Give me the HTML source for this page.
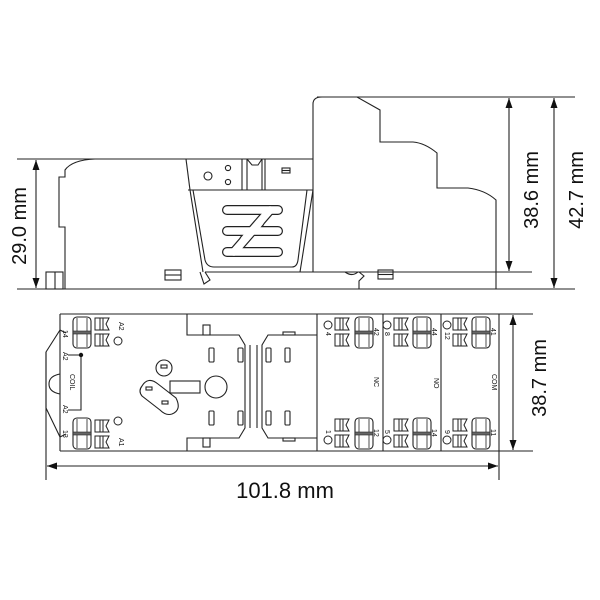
<!DOCTYPE html>
<html><head><meta charset="utf-8"><style>
html,body{margin:0;padding:0;background:#fff;}
svg{display:block;}
text{font-family:"Liberation Sans",sans-serif;fill:#111;}
</style></head><body>
<svg width="600" height="600" viewBox="0 0 600 600" xmlns="http://www.w3.org/2000/svg">
<defs>
  <marker id="ar" viewBox="0 0 10 10" refX="10" refY="5" markerWidth="10" markerHeight="10" orient="auto-start-reverse" markerUnits="userSpaceOnUse">
    <path d="M0,1.5 L10,5 L0,8.5 z" fill="#111"/>
  </marker>
  <g id="big">
    <rect x="0" y="0" width="18" height="31" rx="4" fill="#fff" stroke="#222" stroke-width="1.1"/>
    <line x1="4" y1="1" x2="4" y2="30" stroke="#222" stroke-width="0.8"/>
    <line x1="14" y1="1" x2="14" y2="30" stroke="#222" stroke-width="0.8"/>
    <rect x="0" y="14" width="18" height="3" fill="#666" stroke="#222" stroke-width="0.6"/>
  </g>
  <g id="sm" fill="none" stroke="#222" stroke-width="1">
    <path d="M0,0 H14 L11,6 L14,12 H0 Z"/>
    <line x1="5" y1="0" x2="5" y2="12"/><line x1="8" y1="0" x2="8" y2="12"/>
    <path d="M0,16 H14 L11,22 L14,28 H0 Z"/>
    <line x1="5" y1="16" x2="5" y2="28"/><line x1="8" y1="16" x2="8" y2="28"/>
  </g>
</defs>

<g fill="none" stroke="#222" stroke-width="1.1">
<line x1="317" y1="97" x2="575" y2="97"/>
<line x1="17" y1="159" x2="313" y2="159"/>
<line x1="17" y1="289" x2="575" y2="289"/>
<line x1="205" y1="272" x2="532" y2="272"/>
<path d="M65,289 V227 H59 V177 H65 V170 Q72,160 95,159"/>
<rect x="46" y="272" width="17" height="17"/>
<line x1="55" y1="272" x2="55" y2="289"/>
<path d="M186,159 L190,190"/>
<path d="M200,272 L204,284 L210,280 L205,272"/>
<rect x="165" y="270" width="16" height="10"/><line x1="165" y1="275" x2="181" y2="275"/>
<line x1="188" y1="190" x2="313" y2="190"/>
<circle cx="208" cy="176" r="4"/><circle cx="228" cy="168" r="2.6"/><circle cx="228" cy="182" r="2.6"/>
<line x1="242" y1="159" x2="242" y2="190"/><line x1="247" y1="159" x2="247" y2="190"/>
<path d="M247,159 L252,165 H258 L262,159"/>
<line x1="262" y1="159" x2="262" y2="190"/><line x1="265" y1="159" x2="265" y2="190"/>
<rect x="282" y="168" width="8" height="5"/><line x1="282" y1="170.5" x2="290" y2="170.5"/>
<path d="M190,190 L203,272"/>
<path d="M193,190 L205,260 Q207,267 214,267 H292 Q297,267 298,260 L307,190"/>
<path d="M313,190 L300,272"/>
<!-- logo -->
<g stroke-width="10" stroke="#222" stroke-linecap="round">
  <path d="M227,210 H278 M227,231 H278 M227,252 H278"/>
  <path d="M270,210 L244,240 M260,222 L234,252"/>
</g>
<g stroke-width="7.6" stroke="#fff" stroke-linecap="round">
  <path d="M227,210 H278 M227,231 H278 M227,252 H278"/>
  <path d="M270,210 L244,240 M260,222 L234,252"/>
</g>
<path d="M313,272 V104 Q313,97 322,97 H357 L380,110 V142 H413 Q425,143 437,153 V188 H468 Q485,190 496,200 V289"/>
<path d="M359,289 V281 L364,276 L359,272"/>
<path d="M345,272 Q352,277 358,272"/>
<rect x="378" y="270" width="15" height="9"/><line x1="378" y1="274.5" x2="393" y2="274.5"/>
<line x1="36" y1="160" x2="36" y2="288" marker-start="url(#ar)" marker-end="url(#ar)"/>
<line x1="509" y1="98" x2="509" y2="271" marker-start="url(#ar)" marker-end="url(#ar)"/>
<line x1="554" y1="98" x2="554" y2="288" marker-start="url(#ar)" marker-end="url(#ar)"/>

<line x1="60" y1="314" x2="533" y2="314"/>
<line x1="60" y1="451" x2="533" y2="451"/>
<line x1="60" y1="314" x2="60" y2="451"/>
<line x1="499" y1="314" x2="499" y2="480"/>
<line x1="317" y1="314" x2="317" y2="451"/>
<line x1="383" y1="314" x2="383" y2="451"/>
<line x1="441" y1="314" x2="441" y2="451"/>
<line x1="46" y1="352" x2="46" y2="480"/>
<path d="M60,330 L46,352 V408 L60,437"/>
<path d="M60,374 Q49,376 49,384 Q49,392 60,394"/>
<path d="M60,330 L66,333 M60,437 L66,434"/>
<path d="M68,355 H81 V410 H68"/>
<path d="M187,314 V335 H239 L245,345 V428 L239,438 H187 V451"/>
<path d="M317,335 H268 L262,345 V428 L268,438 H317"/>
<line x1="250" y1="345" x2="250" y2="428"/><line x1="257" y1="345" x2="257" y2="428"/>
<rect x="203" y="325" width="7" height="10"/><rect x="203" y="438" width="7" height="9"/>
<rect x="283" y="332" width="12" height="3"/><rect x="283" y="438" width="12" height="3"/>
<rect x="209" y="348" width="5" height="14" rx="1"/><rect x="238" y="348" width="5" height="14" rx="1"/>
<rect x="266" y="348" width="5" height="14" rx="1"/><rect x="285" y="348" width="5" height="14" rx="1"/>
<rect x="209" y="411" width="5" height="14" rx="1"/><rect x="238" y="411" width="5" height="14" rx="1"/>
<rect x="266" y="411" width="5" height="14" rx="1"/><rect x="285" y="411" width="5" height="14" rx="1"/>
<circle cx="164" cy="368" r="8"/><rect x="161" y="365" width="6" height="3"/>
<rect x="170" y="381" width="30" height="12"/>
<path d="M142,386 Q148,376 158,384 L176,398 Q182,410 172,414 Q166,416 160,410 L142,396 Q138,391 142,386 Z"/>
<rect x="146" y="387" width="6" height="3"/>
<rect x="162" y="401" width="6" height="3"/>
<circle cx="216" cy="387" r="11"/>
<line x1="513" y1="315" x2="513" y2="450" marker-start="url(#ar)" marker-end="url(#ar)"/>
<line x1="47" y1="466" x2="498" y2="466" marker-start="url(#ar)" marker-end="url(#ar)"/>
</g>
<circle cx="81" cy="355" r="2.2" fill="#111"/>

<use href="#big" x="73" y="317"/><use href="#sm" x="95" y="318"/>
<use href="#big" x="73" y="418"/><use href="#sm" x="95" y="420"/>
<g fill="none" stroke="#222" stroke-width="1">
<circle cx="118" cy="341" r="4"/><circle cx="118" cy="421" r="4"/>
<circle cx="328" cy="325" r="4"/><circle cx="328" cy="440" r="4"/>
<circle cx="387" cy="325" r="4"/><circle cx="387" cy="440" r="4"/>
<circle cx="447" cy="325" r="4"/><circle cx="447" cy="440" r="4"/>
</g>
<use href="#sm" x="335" y="318"/><use href="#big" x="355" y="317"/>
<use href="#sm" x="335" y="419"/><use href="#big" x="355" y="418"/>
<use href="#sm" x="394" y="318"/><use href="#big" x="413" y="317"/>
<use href="#sm" x="394" y="419"/><use href="#big" x="413" y="418"/>
<use href="#sm" x="453" y="318"/><use href="#big" x="472" y="317"/>
<use href="#sm" x="453" y="419"/><use href="#big" x="472" y="418"/>

<g font-size="7">
<text transform="translate(119,322) rotate(90)">A2</text>
<text transform="translate(119,438) rotate(90)">A1</text>
<text transform="translate(63,330) rotate(90)">14</text>
<text transform="translate(63,430) rotate(90)">13</text>
<text transform="translate(63,352) rotate(90)">A2</text>
<text transform="translate(63,405) rotate(90)">A2</text>
<text transform="translate(70,374) rotate(90)">COIL</text>
<text transform="translate(374,328) rotate(90)">42</text>
<text transform="translate(432,328) rotate(90)">44</text>
<text transform="translate(491,328) rotate(90)">41</text>
<text transform="translate(374,429) rotate(90)">12</text>
<text transform="translate(432,429) rotate(90)">14</text>
<text transform="translate(491,429) rotate(90)">11</text>
<text transform="translate(326,332) rotate(90)">4</text>
<text transform="translate(385,332) rotate(90)">8</text>
<text transform="translate(445,332) rotate(90)">12</text>
<text transform="translate(326,430) rotate(90)">1</text>
<text transform="translate(385,430) rotate(90)">5</text>
<text transform="translate(445,430) rotate(90)">9</text>
<text transform="translate(374,377) rotate(90)">NC</text>
<text transform="translate(434,378) rotate(90)">NO</text>
<text transform="translate(492,374) rotate(90)">COM</text>
</g>

<g font-size="20">
<text transform="translate(26,226) rotate(-90)" text-anchor="middle">29.0 mm</text>
<text transform="translate(538,190) rotate(-90)" text-anchor="middle">38.6 mm</text>
<text transform="translate(583,190) rotate(-90)" text-anchor="middle">42.7 mm</text>
<text transform="translate(546,378) rotate(-90)" text-anchor="middle">38.7 mm</text>
</g>
<text x="285" y="498" font-size="22" text-anchor="middle">101.8 mm</text>
</svg>
</body></html>
